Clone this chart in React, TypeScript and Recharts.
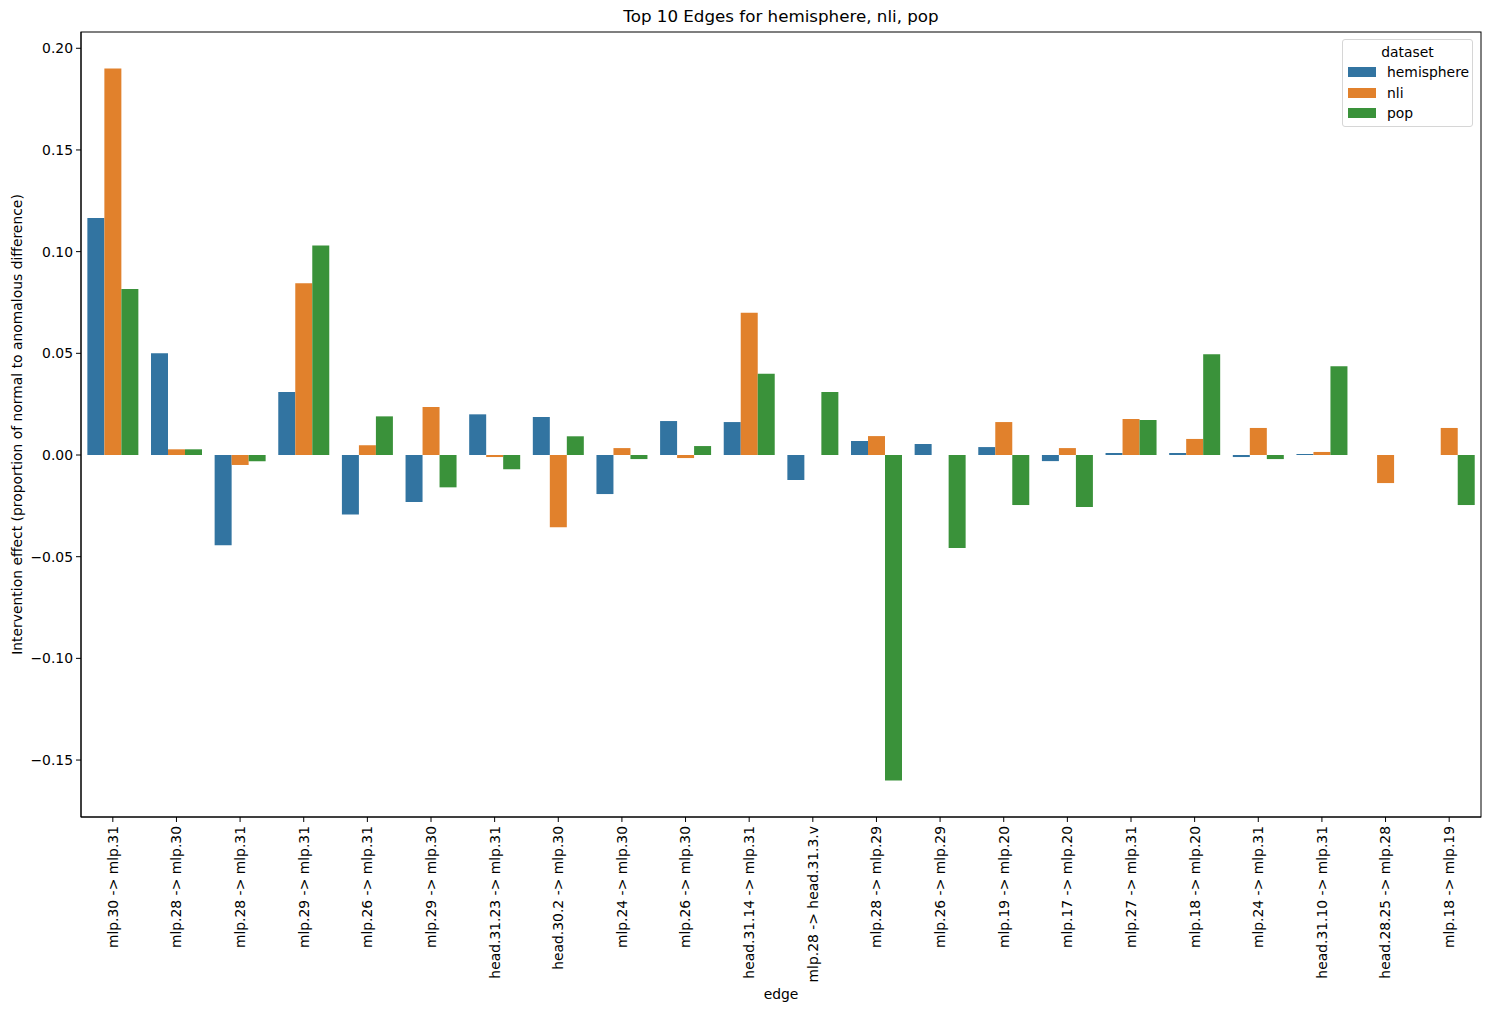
import React from "react";
import { Bar, BarChart, XAxis, YAxis, usePlotArea } from "recharts";

const edges = [
  "mlp.30 -> mlp.31",
  "mlp.28 -> mlp.30",
  "mlp.28 -> mlp.31",
  "mlp.29 -> mlp.31",
  "mlp.26 -> mlp.31",
  "mlp.29 -> mlp.30",
  "head.31.23 -> mlp.31",
  "head.30.2 -> mlp.30",
  "mlp.24 -> mlp.30",
  "mlp.26 -> mlp.30",
  "head.31.14 -> mlp.31",
  "mlp.28 -> head.31.3.v",
  "mlp.28 -> mlp.29",
  "mlp.26 -> mlp.29",
  "mlp.19 -> mlp.20",
  "mlp.17 -> mlp.20",
  "mlp.27 -> mlp.31",
  "mlp.18 -> mlp.20",
  "mlp.24 -> mlp.31",
  "head.31.10 -> mlp.31",
  "head.28.25 -> mlp.28",
  "mlp.18 -> mlp.19",
];

const hemisphere = [
  0.1165, 0.05, -0.0444, 0.031, -0.0292, -0.0231, 0.02, 0.0187, -0.0192, 0.0167, 0.0162,
  -0.0123, 0.0069, 0.0054, 0.0039, -0.003, 0.001, 0.001, -0.001, 0.0005, 0, 0,
];
const nli = [
  0.19, 0.0028, -0.0049, 0.0845, 0.0048, 0.0236, -0.001, -0.0355, 0.0034, -0.0015, 0.07,
  0, 0.0093, 0, 0.0162, 0.0034, 0.0177, 0.0079, 0.0133, 0.0015, -0.0138, 0.0133,
];
const pop = [
  0.0816, 0.0028, -0.0031, 0.103, 0.019, -0.0159, -0.007, 0.0092, -0.002, 0.0044, 0.04,
  0.031, -0.16, -0.0457, -0.0246, -0.0256, 0.0172, 0.0496, -0.002, 0.0437, 0, -0.0246,
];

const yTicks = [-0.15, -0.1, -0.05, 0, 0.05, 0.1, 0.15, 0.2];

const series = [
  { key: "hemisphere", color: "#3274a1" },
  { key: "nli", color: "#e1812c" },
  { key: "pop", color: "#3a923a" },
];

const data = edges.map((edge, i) => ({
  edge,
  hemisphere: hemisphere[i],
  nli: nli[i],
  pop: pop[i],
}));

const FONT = "DejaVu Sans, sans-serif";
const TITLE = "Top 10 Edges for hemisphere, nli, pop";

const fmt = (v: number) => (v < 0 ? "\u2212" : "") + Math.abs(v).toFixed(2);

function EdgeTick(props: any) {
  const { x, y, payload } = props;
  return (
    <text
      transform={`translate(${x},${y}) rotate(-90)`}
      textAnchor="end"
      dy="0.35em"
      fontSize={13.9}
      fontFamily={FONT}
      fill="#000"
    >
      {payload.value}
    </text>
  );
}

function YLabel(props: any) {
  const vb = props.viewBox || {};
  const cy = vb.y + vb.height / 2;
  return (
    <text
      transform={`translate(17,${cy}) rotate(-90)`}
      textAnchor="middle"
      dominantBaseline="central"
      fontSize={13.9}
      fontFamily={FONT}
      fill="#000"
    >
      Intervention effect (proportion of normal to anomalous difference)
    </text>
  );
}

// frame + title drawn from the plot area
function Frame() {
  const area = usePlotArea();
  if (!area) return null;
  return (
    <g>
      <rect x={area.x} y={area.y} width={area.width} height={area.height} fill="none" stroke="#000" strokeWidth={1} />
      <text
        x={area.x + area.width / 2}
        y={area.y - 10}
        textAnchor="middle"
        fontSize={16.7}
        fontFamily={FONT}
        fill="#000"
      >
        {TITLE}
      </text>
    </g>
  );
}

function LegendBox() {
  return (
    <div
      style={{
        position: "absolute",
        left: 1342,
        top: 39,
        width: 129,
        height: 86,
        border: "1px solid #d6d6d6",
        borderRadius: 3,
        background: "rgba(255,255,255,0.8)",
        fontFamily: FONT,
        fontSize: 13.9,
        color: "#000",
      }}
    >
      <div style={{ textAlign: "center", marginTop: 2, height: 20, lineHeight: "20px" }}>dataset</div>
      {series.map((s) => (
        <div key={s.key} style={{ display: "flex", alignItems: "center", height: 20.5 }}>
          <span style={{ width: 28, height: 10, background: s.color, marginLeft: 5, marginRight: 11 }} />
          <span>{s.key}</span>
        </div>
      ))}
    </div>
  );
}

export default function App() {
  return (
    <div style={{ position: "absolute", left: 0, top: 0, width: 1489, height: 1012, background: "#fff" }}>
      <BarChart
        width={1489}
        height={1012}
        data={data}
        margin={{ top: 32, right: 8, bottom: 10, left: 0 }}
        barCategoryGap="10%"
        barGap={0}
      >
        <XAxis
          dataKey="edge"
          interval={0}
          height={185}
          tick={<EdgeTick />}
          tickSize={5}
          tickMargin={4}
          axisLine={{ stroke: "#000" }}
          tickLine={{ stroke: "#000" }}
          label={{ value: "edge", position: "insideBottom", offset: 3, fontSize: 13.9, fontFamily: FONT, fill: "#000" }}
        />
        <YAxis
          domain={[-0.178, 0.208]}
          ticks={yTicks}
          tickFormatter={fmt}
          width={81}
          tickSize={5}
          tickMargin={3}
          allowDataOverflow
          axisLine={{ stroke: "#000" }}
          tickLine={{ stroke: "#000" }}
          tick={{ fontSize: 13.9, fontFamily: FONT, fill: "#000" }}
          label={<YLabel />}
        />
        {series.map((s) => (
          <Bar key={s.key} dataKey={s.key} fill={s.color} isAnimationActive={false} />
        ))}
        <Frame />
      </BarChart>
      <LegendBox />
    </div>
  );
}
